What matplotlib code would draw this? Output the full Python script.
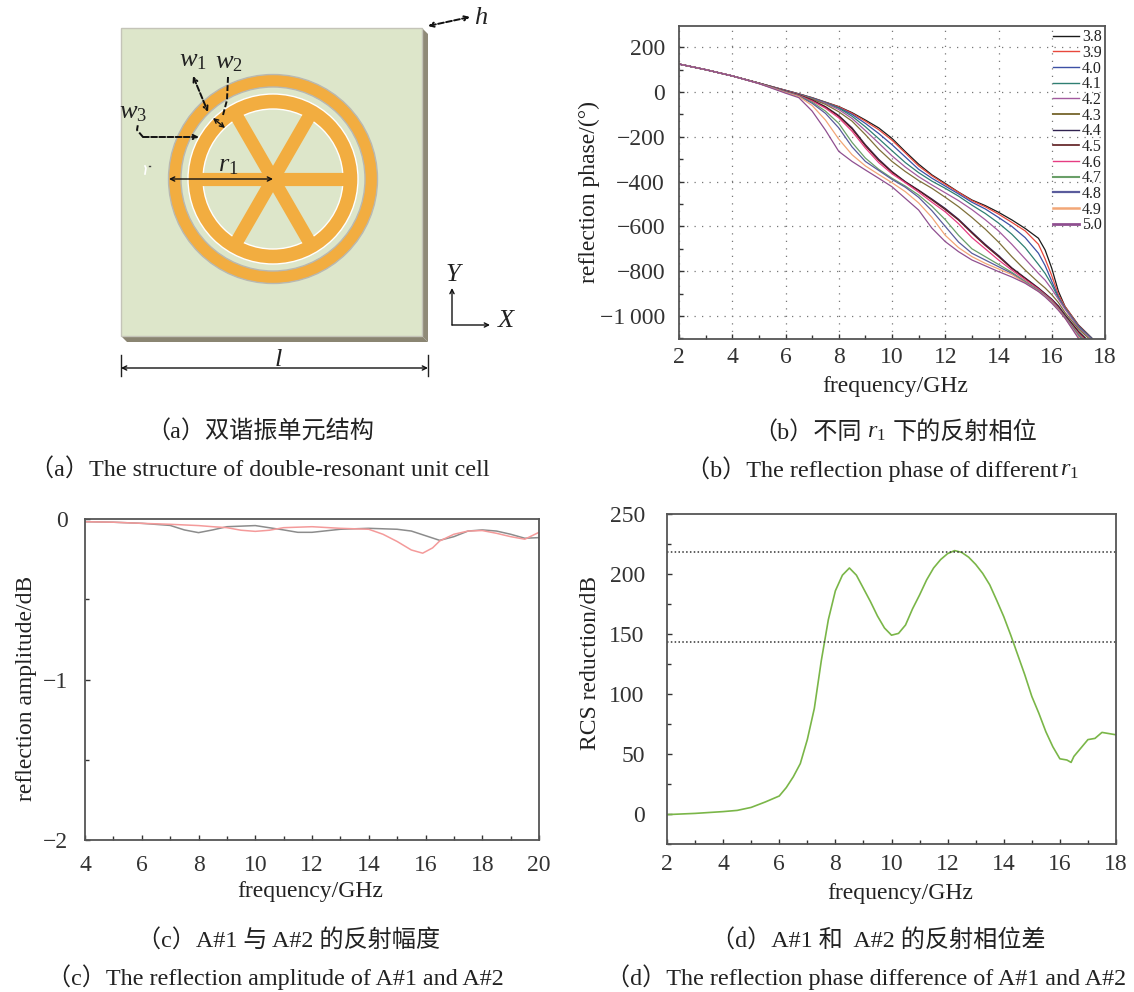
import matplotlib
matplotlib.use('Agg')
import matplotlib.pyplot as plt
from matplotlib.patches import Circle, Polygon, Rectangle
from matplotlib.ticker import MultipleLocator

plt.rcParams['font.family'] = ['Liberation Serif', 'Noto Sans CJK SC', 'DejaVu Sans']
plt.rcParams['mathtext.fontset'] = 'custom'
plt.rcParams['mathtext.rm'] = 'Liberation Serif'
plt.rcParams['mathtext.it'] = 'Liberation Serif:italic'
plt.rcParams['text.color'] = '#222222'
plt.rcParams['axes.labelcolor'] = '#222222'
plt.rcParams['xtick.color'] = '#333333'
plt.rcParams['ytick.color'] = '#333333'

W, H = 1134, 992

# (b) reflection phase for each r1
freq_b = [2, 3, 4, 5, 6, 6.5, 7, 7.5, 8, 8.5, 9, 9.5, 10, 10.5, 11, 11.5, 12, 12.5,
          13, 13.5, 14, 14.5, 15, 15.5, 15.75, 16, 16.25, 16.5, 17, 17.5, 18]
r38 = [125, 100, 72, 40, 8, -8, -25, -45, -65, -92, -125, -160, -207, -266, -322, -370, -408, -447,
       -482, -507, -537, -571, -609, -653, -705, -787, -890, -958, -1040, -1098, -1170]
r39 = [125, 100, 72, 40, 8, -8, -26, -46, -66, -95, -130, -168, -215, -272, -330, -374, -412, -448,
       -485, -512, -545, -582, -620, -680, -745, -820, -905, -958, -1042, -1100, -1170]
r40 = [125, 100, 72, 40, 7, -9, -27, -47, -70, -100, -140, -185, -235, -290, -345, -385, -420, -455,
       -492, -522, -560, -600, -650, -720, -775, -845, -915, -965, -1045, -1100, -1175]
r41 = [125, 100, 72, 40, 6, -10, -28, -48, -72, -108, -155, -208, -262, -315, -360, -398, -430, -465,
       -505, -542, -585, -635, -695, -770, -810, -860, -920, -965, -1048, -1102, -1180]
r42 = [125, 100, 72, 40, 5, -11, -30, -50, -78, -118, -172, -228, -285, -335, -378, -415, -450, -485,
       -525, -570, -620, -680, -745, -810, -840, -880, -925, -970, -1052, -1105, -1185]
r43 = [125, 100, 72, 40, 4, -12, -32, -55, -88, -130, -190, -255, -310, -355, -395, -430, -470, -512,
       -560, -612, -670, -735, -795, -850, -875, -905, -940, -985, -1058, -1112, -1190]
r44 = [125, 100, 72, 39, 3, -14, -36, -65, -105, -160, -235, -300, -355, -400, -438, -478, -520, -568,
       -625, -680, -730, -785, -830, -875, -900, -925, -955, -995, -1068, -1125, -1200]
r45 = [125, 100, 72, 39, 3, -14, -37, -67, -108, -165, -240, -305, -358, -402, -440, -482, -525, -572,
       -630, -685, -735, -788, -832, -878, -902, -928, -960, -1000, -1072, -1130, -1205]
r46 = [125, 100, 72, 39, 2, -15, -40, -72, -115, -175, -250, -315, -365, -405, -447, -492, -535, -588,
       -650, -700, -750, -795, -838, -880, -905, -930, -965, -1005, -1078, -1135, -1210]
r47 = [125, 100, 72, 39, 1, -17, -45, -85, -140, -225, -295, -345, -385, -420, -460, -510, -570, -640,
       -700, -735, -770, -805, -845, -885, -908, -935, -968, -1005, -1082, -1140, -1215]
r48 = [125, 100, 72, 38, 0, -18, -50, -95, -160, -245, -310, -350, -390, -425, -470, -530, -600, -670,
       -720, -750, -780, -810, -850, -888, -910, -938, -970, -1008, -1088, -1145, -1220]
r49 = [125, 100, 72, 38, -2, -20, -60, -125, -210, -280, -330, -368, -405, -445, -495, -560, -640, -695,
       -735, -765, -790, -815, -852, -890, -912, -940, -972, -1010, -1094, -1150, -1225]
r50 = [125, 100, 72, 38, -5, -25, -85, -170, -265, -310, -348, -385, -423, -475, -527, -608, -668, -713,
       -750, -776, -802, -826, -854, -891, -915, -943, -975, -1010, -1100, -1160, -1235]
series_b = [r38, r39, r40, r41, r42, r43, r44, r45, r46, r47, r48, r49, r50]
labels_b = ['3.8', '3.9', '4.0', '4.1', '4.2', '4.3', '4.4', '4.5', '4.6', '4.7', '4.8', '4.9', '5.0']
colors_b = ['#1a1a1a', '#e8483c', '#3c50a5', '#2f7f72', '#a25a9e', '#7f703a', '#30224f',
            '#5c1a1c', '#e63c82', '#6a9f68', '#5a5c9c', '#f2a777', '#8f4f90']
legend_widths = [1, 1, 1, 1, 1, 1.4, 1, 1.2, 1, 1.5, 1.6, 1.8, 2]
yticks_b = [200, 0, -200, -400, -600, -800, -1000]
yticklabels_b = ['200', '0', '\u2212200', '\u2212400', '\u2212600', '\u2212800', '\u22121\u2009000']

# (c) reflection amplitude
freq_c1 = [4, 5, 6, 7, 7.5, 8, 8.5, 9, 10, 11, 11.5, 12, 13, 14, 15, 15.5, 16, 16.5, 17, 17.5, 18, 18.5, 19, 19.5, 20]
amp_a1 = [-.017, -.02, -.027, -.04, -.068, -.085, -.068, -.048, -.041, -.068, -.083, -.083, -.064, -.058,
          -.064, -.075, -.104, -.133, -.11, -.075, -.068, -.075, -.095, -.12, -.116]
freq_c2 = [4, 5, 6, 7, 8, 8.5, 9, 9.5, 10, 10.5, 11, 12, 13, 14, 14.5, 15, 15.5, 15.9, 16.25, 16.5, 17, 17.5, 18, 18.5, 19, 19.5, 20]
amp_a2 = [-.017, -.02, -.027, -.033, -.041, -.048, -.054, -.07, -.077, -.07, -.054, -.048, -.058, -.064,
          -.095, -.14, -.193, -.213, -.18, -.137, -.095, -.075, -.072, -.089, -.11, -.126, -.083]

# (d) RCS reduction
freq_d = [2, 3, 4, 4.5, 5, 5.5, 6, 6.25, 6.5, 6.75, 7, 7.25, 7.5, 7.75, 8, 8.25, 8.5, 8.75, 9, 9.25, 9.5, 9.75,
          10, 10.25, 10.5, 10.75, 11, 11.25, 11.5, 11.75, 12, 12.25, 12.5, 12.75, 13, 13.25, 13.5, 13.75, 14,
          14.25, 14.5, 14.75, 15, 15.25, 15.5, 15.75, 16, 16.25, 16.4, 16.5, 16.75, 17, 17.25, 17.5, 17.75, 18]
rcs = [-.5, .5, 2, 3, 5.5, 10, 15, 22, 31, 42, 62, 88, 128, 162, 186, 199, 205, 199, 188, 177, 165, 155,
       149, 150.5, 157.5, 171, 182.5, 195, 205, 212, 217, 219.5, 218, 214, 208, 200.5, 191, 178, 164.5,
       149, 132.5, 116, 98, 84, 68.6, 56, 46, 45, 43, 48, 55, 62, 63, 68, 67, 66]
levels_d = [218, 143.5]

label_fs = 17


def px_axes(fig, left, top, right, bottom):
    return fig.add_axes([left / W, 1 - bottom / H, (right - left) / W, (bottom - top) / H])


def style(ax, xmaj, ymin, xpad=8, ypad=8):
    ax.xaxis.set_major_locator(MultipleLocator(xmaj))
    ax.xaxis.set_minor_locator(MultipleLocator(xmaj / 2))
    ax.yaxis.set_minor_locator(MultipleLocator(ymin))
    ax.tick_params(which='major', direction='in', length=3.5, width=1, labelsize=17)
    ax.tick_params(which='minor', direction='in', length=2.8, width=1)
    ax.tick_params(axis='x', which='major', pad=xpad)
    ax.tick_params(axis='y', which='major', pad=ypad)
    for s in ax.spines.values():
        s.set_color('#555555')
        s.set_linewidth(1.3)


fig = plt.figure(figsize=(W / 100, H / 100), dpi=100)

# pixel layer for the unit cell drawing and the captions
bg = fig.add_axes([0, 0, 1, 1])
bg.set_xlim(0, W)
bg.set_ylim(H, 0)
bg.axis('off')

bg.add_patch(Polygon([(422, 28), (428, 34), (428, 342), (422, 336)], fc='#8f8a78', ec='none'))
bg.add_patch(Polygon([(121, 336), (422, 336), (428, 342), (127, 342)], fc='#8a8572', ec='none'))
bg.add_patch(Rectangle((121, 28), 301, 308, fc='#dde6ca', ec='#c4c4b8', lw=1))
bg.plot([145, 146, 145], [166, 168, 174], color='white', lw=1.2)
bg.plot([149, 150], [166, 166], color='#444444', lw=1)

cx, cy = 273, 179
ring = '#f2ad40'
bg.add_patch(Circle((cx, cy), 104.5, fc=ring, ec='#b8b8b2', lw=1))
bg.add_patch(Circle((cx, cy), 92, fc='#dde6ca', ec='#b8b8b2', lw=1))
bg.add_patch(Circle((cx, cy), 85, fc=ring, ec='white', lw=1))
bg.add_patch(Circle((cx, cy), 70, fc='#dde6ca', ec='white', lw=1))
for x2, y2 in [(77, 0), (38.5, 66.7), (-38.5, 66.7), (-77, 0), (-38.5, -66.7), (38.5, -66.7)]:
    bg.plot([cx, cx + x2], [cy, cy + y2], color=ring, lw=9.5, solid_capstyle='butt')


def arrow(x0, y0, x1, y1, style='->', ls='-', lw=1.0):
    bg.annotate('', xy=(x1, y1), xytext=(x0, y0),
                arrowprops=dict(arrowstyle=style + ',head_length=0.3,head_width=0.15',
                                color='#111111', lw=lw, ls=ls, shrinkA=0, shrinkB=0))


dash = (0, (3, 1.2))
arrow(169, 179, 273, 179, '<->')
arrow(121, 368, 428, 368, '<->')
bg.plot([121, 121], [355, 376], color='#222222', lw=1)
bg.plot([428, 428], [355, 376], color='#222222', lw=1)
arrow(452, 325, 490, 325)
arrow(452, 325, 452, 288)
arrow(428, 26, 470, 17, '<->', ls=dash, lw=1.4)
arrow(193, 76, 208, 112, '<->', ls=dash, lw=1.4)
bg.plot([228, 227, 223], [77, 100, 115], color='#111111', lw=1.4, ls=dash)
arrow(213, 118, 225, 128, '<->')
arrow(143, 137, 199, 137, ls=dash, lw=1.4)
bg.plot([143, 137, 138], [137, 130, 124], color='#111111', lw=1.4, ls=dash)

for s, x, y, fs in [(r'$w_1$', 193, 61, 19), (r'$w_2$', 229, 63, 19), (r'$w_3$', 133, 113, 19),
                    (r'$r_1$', 228, 166, 19), (r'$h$', 481, 18, 19), (r'$l$', 278, 360, 19),
                    (r'$Y$', 455, 275, 19), (r'$X$', 507, 321, 19)]:
    bg.text(x, y, s, fontsize=fs, ha='center', va='center')

cap = 17.4
bg.text(146, 432, '\uff08a\uff09双谐振单元结构', fontsize=cap, va='center')
bg.text(30, 469, '\uff08a\uff09The structure of double-resonant unit cell', fontsize=cap, va='center')
bg.text(753, 432, '\uff08b\uff09不同', fontsize=cap, va='center')
bg.text(867, 432, r'$r_1$', fontsize=cap, va='center')
bg.text(893, 432, '下的反射相位', fontsize=cap, va='center')
bg.text(686, 469, '\uff08b\uff09The reflection phase of different', fontsize=cap, va='center')
bg.text(1060, 470, r'$r_1$', fontsize=cap, va='center')
bg.text(137, 940, '\uff08c\uff09A#1 与 A#2 的反射幅度', fontsize=cap, va='center')
bg.text(47, 977, '\uff08c\uff09The reflection amplitude of A#1 and A#2', fontsize=cap, va='center')
bg.text(711, 940, '\uff08d\uff09A#1 和  A#2 的反射相位差', fontsize=cap, va='center')
bg.text(606, 977, '\uff08d\uff09The reflection phase difference of A#1 and A#2', fontsize=cap, va='center')

# (b)
axb = px_axes(fig, 679, 26, 1105, 339)
for vals, lab, col in zip(series_b, labels_b, colors_b):
    axb.plot(freq_b, vals, color=col, lw=0.9, label=lab)
axb.set_xlim(2, 18)
axb.set_ylim(-1103, 295)
style(axb, 2, 100, xpad=6, ypad=10)
axb.set_yticks(yticks_b)
axb.set_yticklabels(yticklabels_b)
axb.grid(True, which='major', color='#777777', lw=0.9, ls=(0, (1, 5)))
axb.set_xlabel('frequency/GHz', fontsize=label_fs)
axb.set_ylabel('reflection phase/(°)', fontsize=label_fs)
axb.xaxis.set_label_coords(0.507, -0.118)
axb.yaxis.set_label_coords(-0.185, 0.47)
leg = axb.legend(loc='upper right', frameon=False, fontsize=11.5, handlelength=1.63, handletextpad=0.19,
                 labelspacing=-0.02, borderaxespad=0.1, borderpad=0.1)
for line, lw in zip(leg.get_lines(), legend_widths):
    line.set_linewidth(lw)

# (c)
axc = px_axes(fig, 85, 519, 539, 840)
axc.plot(freq_c1, amp_a1, color='#8c8c8c', lw=1.1)
axc.plot(freq_c2, amp_a2, color='#f49a9a', lw=1.1)
axc.set_xlim(4, 20)
axc.set_ylim(-2, 0)
style(axc, 2, 0.5, xpad=11, ypad=12)
axc.set_yticks([0, -1, -2])
axc.set_yticklabels(['0', '\u22121', '\u22122'])
axc.set_xlabel('frequency/GHz', fontsize=label_fs)
axc.set_ylabel('reflection amplitude/dB', fontsize=label_fs)
axc.xaxis.set_label_coords(0.496, -0.128)
axc.yaxis.set_label_coords(-0.106, 0.473)

# (d)
axd = px_axes(fig, 667, 514, 1116, 844)
axd.plot(freq_d, rcs, color='#7ab648', lw=1.2)
for lev in levels_d:
    axd.axhline(lev, color='#333333', lw=1.1, ls=(0, (1, 1.5)))
axd.set_xlim(2, 18)
axd.set_ylim(-25, 250)
style(axd, 2, 25, xpad=7.5, ypad=16)
axd.set_yticks([0, 50, 100, 150, 200, 250])
axd.set_xlabel('frequency/GHz', fontsize=label_fs)
axd.set_ylabel('RCS reduction/dB', fontsize=label_fs)
axd.xaxis.set_label_coords(0.519, -0.118)
axd.yaxis.set_label_coords(-0.147, 0.55)

fig.savefig('out.png', dpi=100)
